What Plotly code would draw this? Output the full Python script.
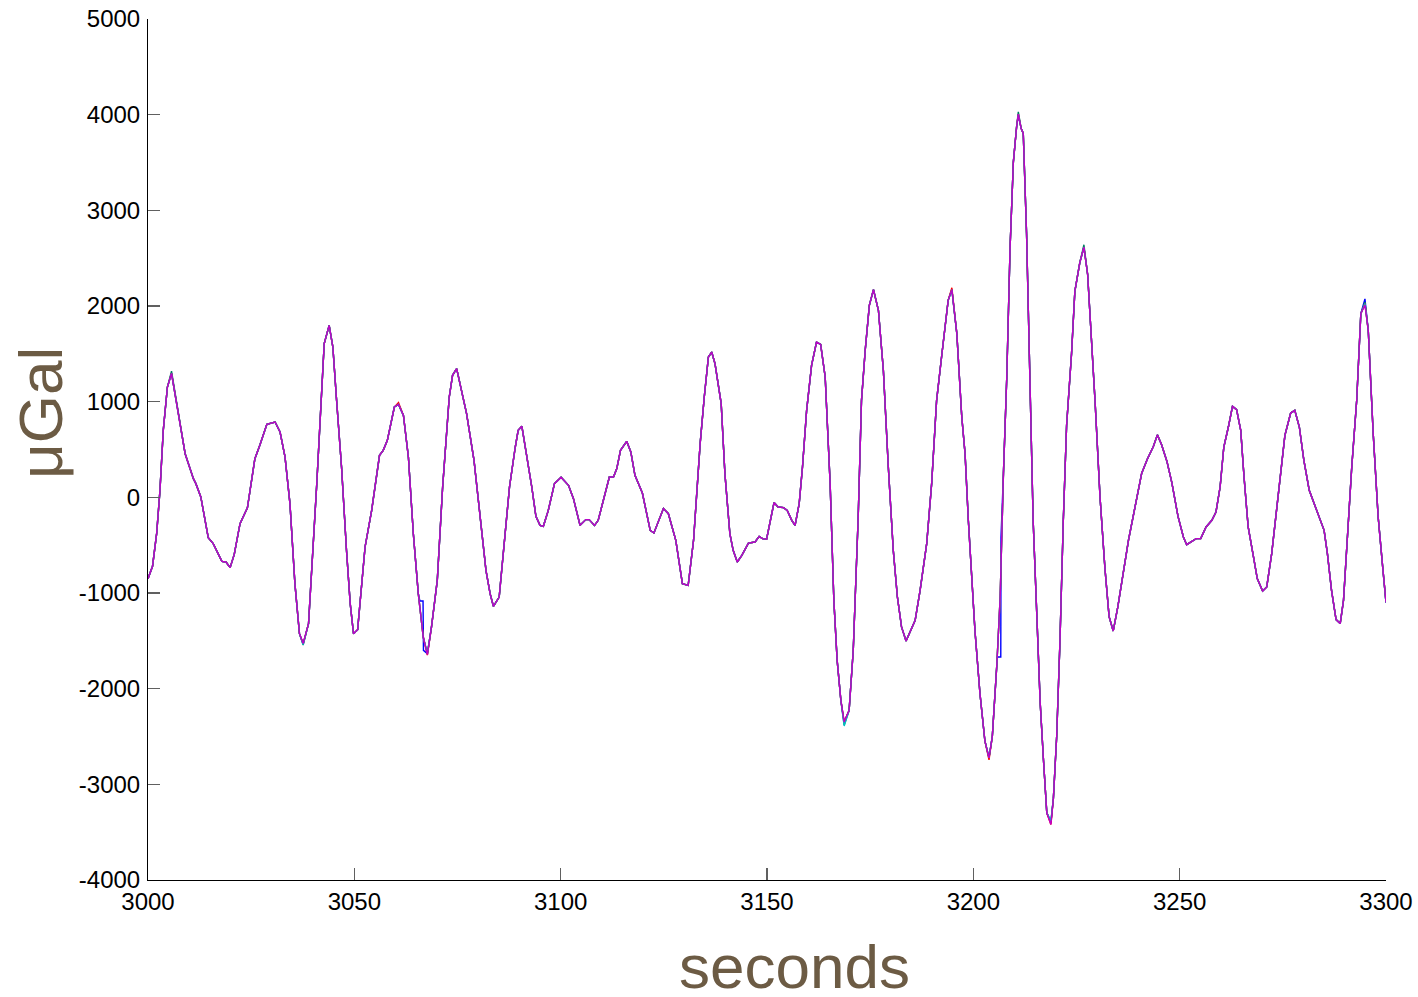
import plotly.graph_objects as go

# ---- data (seconds, µGal) ----
seconds = [
    3000.0, 3001.1, 3002.1, 3002.9, 3003.7, 3004.7, 3005.7, 3009.0, 3011.0, 3011.6,
    3012.8, 3014.6, 3015.8, 3017.9, 3018.9, 3019.9, 3020.9, 3022.3, 3024.1, 3025.9,
    3027.1, 3028.8, 3030.8, 3032.0, 3033.2, 3034.4, 3035.6, 3036.7, 3037.6, 3038.9,
    3040.9, 3042.1, 3042.7, 3043.9, 3044.8, 3045.7, 3046.9, 3048.1, 3049.0, 3049.8,
    3050.8, 3052.6, 3054.2, 3056.1, 3057.0, 3058.0, 3059.7, 3060.7, 3061.9, 3063.1,
    3064.3, 3065.5, 3066.7, 3067.7, 3068.7, 3070.1, 3071.4, 3073.0, 3073.8, 3074.8,
    3075.8, 3077.2, 3079.0, 3080.5, 3081.9, 3082.9, 3083.7, 3085.1, 3086.5, 3087.6,
    3089.0, 3089.7, 3090.6, 3091.6, 3093.0, 3094.0, 3095.0, 3095.8, 3097.0, 3098.5,
    3100.1, 3101.9, 3103.1, 3104.7, 3106.1, 3106.9, 3108.2, 3109.1, 3110.3, 3111.8,
    3112.8, 3113.6, 3114.5, 3116.0, 3117.0, 3118.0, 3119.8, 3121.7, 3122.6, 3123.7,
    3124.9, 3126.1, 3127.9, 3129.5, 3130.9, 3132.2, 3133.8, 3134.8, 3135.8, 3136.6,
    3137.4, 3138.9, 3139.8, 3141.0, 3141.8, 3142.8, 3143.9, 3145.5, 3147.1, 3148.1,
    3148.9, 3149.9, 3151.7, 3152.7, 3154.0, 3154.9, 3156.0, 3156.8, 3157.8, 3158.6,
    3159.6, 3160.8, 3162.0, 3163.0, 3164.1, 3165.3, 3166.2, 3167.0, 3167.9, 3168.7,
    3169.9, 3170.9, 3172.1, 3172.9, 3173.8, 3174.8, 3175.8, 3177.0, 3178.2, 3179.4,
    3180.6, 3181.6, 3182.6, 3183.7, 3184.9, 3185.9, 3187.1, 3188.7, 3189.9, 3191.1,
    3192.3, 3193.9, 3194.8, 3196.0, 3197.2, 3198.0, 3198.8, 3199.6, 3200.4, 3201.6,
    3202.8, 3203.8, 3204.6, 3205.7, 3206.5, 3207.3, 3208.1, 3208.9, 3209.7, 3210.5,
    3210.9, 3211.6, 3212.1, 3212.9, 3213.7, 3214.5, 3215.4, 3216.2, 3217.0, 3217.8,
    3218.8, 3219.4, 3220.2, 3221.0, 3221.8, 3222.6, 3223.8, 3224.6, 3225.8, 3226.8,
    3227.7, 3228.5, 3229.5, 3230.7, 3231.9, 3232.9, 3233.9, 3235.0, 3236.4, 3237.6,
    3239.2, 3240.8, 3242.2, 3243.6, 3244.6, 3245.6, 3246.9, 3248.1, 3249.6, 3250.9,
    3251.7, 3254.0, 3255.1, 3256.4, 3257.8, 3258.8, 3259.8, 3260.7, 3261.8, 3262.8,
    3263.8, 3264.8, 3265.6, 3266.6, 3267.9, 3268.8, 3270.1, 3271.1, 3272.3, 3273.5,
    3274.7, 3275.5, 3276.9, 3277.9, 3279.0, 3280.1, 3281.4, 3282.6, 3284.0, 3285.0,
    3285.8, 3286.8, 3287.9, 3288.9, 3289.7, 3290.5, 3291.7, 3292.9, 3293.9, 3294.9,
    3295.7, 3296.9, 3298.1, 3299.2, 3300.0,
]
ugal = [
    -850, -720, -377, 73, 700, 1153, 1295, 456, 195, 143,
    4, -422, -484, -669, -676, -735, -596, -275, -108, 404,
    544, 763, 787, 683, 422, -66, -902, -1425, -1529, -1320,
    143, 1118, 1606, 1798, 1571, 1014, 317, -554, -1111, -1425,
    -1383, -519, -136, 439, 491, 596, 944, 972, 857, 422,
    -380, -1007, -1460, -1634, -1355, -868, 108, 1049, 1275, 1345,
    1136, 875, 387, -240, -763, -1007, -1139, -1042, -380, 108,
    526, 700, 742, 491, 108, -199, -293, -303, -136, 143,
    210, 125, -14, -293, -233, -233, -293, -240, -31, 213,
    213, 300, 491, 585, 474, 230, 45, -345, -373, -240,
    -118, -171, -449, -902, -920, -449, 561, 1049, 1467, 1519,
    1397, 979, 248, -380, -554, -676, -606, -478, -467, -408,
    -432, -437, -55, -101, -108, -136, -240, -293, -66, 317,
    909, 1380, 1623, 1599, 1258, 143, -1077, -1704, -2122, -2349,
    -2226, -1599, -206, 1014, 1537, 2007, 2171, 1955, 1327, 317,
    -554, -1042, -1355, -1502, -1390, -1286, -972, -484, 143, 1014,
    1467, 2059, 2171, 1711, 839, 454, -247, -798, -1397, -2048,
    -2547, -2723, -2498, -1745, -1047, 253, 1253, 2604, 3504, 3879,
    4005, 3854, 3804, 2754, 1253, -247, -1247, -2147, -2748, -3298,
    -3397, -3147, -2497, -1497, -247, 754, 1503, 2153, 2454, 2614,
    2329, 1754, 1003, 3, -747, -1247, -1397, -1147, -747, -447,
    -97, 253, 403, 528, 653, 553, 378, 154, -200, -415,
    -495, -432, -432, -310, -240, -153, 108, 526, 735, 951,
    916, 700, 213, -310, -624, -850, -979, -937, -589, -101,
    317, 648, 881, 909, 735, 387, 73, -66, -240, -345,
    -589, -972, -1278, -1320, -1077, -484, 317, 1014, 1920, 2025,
    1746, 666, -206, -729, -1100,
]

# tick labels as printed in the reference (plain hyphen minus)
x_tick_vals = [3000, 3050, 3100, 3150, 3200, 3250, 3300]
x_tick_text = ["3000", "3050", "3100", "3150", "3200", "3250", "3300"]
y_tick_vals = [-4000, -3000, -2000, -1000, 0, 1000, 2000, 3000, 4000, 5000]
y_tick_text = ["-4000", "-3000", "-2000", "-1000", "0", "1000", "2000", "3000", "4000", "5000"]

# blue channel: two held samples (flat steps)
blue_step_t = [3065.9, 3066.65, 3066.75, 3205.85, 3206.65, 3206.7]
blue_step_v = [-1084, -1084, -1600, -1669, -1669, -420]
blue_gap_from = [3065.6, 3205.75]
blue_gap_to = [3066.8, 3207.0]

# small per-channel deviations at peaks (seconds -> µGal)
green_dev_t = [3005.7, 3037.6, 3168.7, 3210.9, 3226.8, 3294.9]
green_dev_v = [1320, -1545, -2380, 4030, 2640, 2040]
red_dev_t = [3060.7, 3067.7, 3194.8, 3203.8, 3218.8, 3300.0]
red_dev_v = [990, -1650, 2190, -2745, -3420, -1090]
cyan_dev_t = [3037.6, 3168.7, 3218.8]
cyan_dev_v = [-1540, -2390, -3380]
magenta_dev_t = [3067.7, 3218.8, 3294.9]
magenta_dev_v = [-1645, -3420, 2010]
blue_dev_t = [3294.9, 3210.9]
blue_dev_v = [2075, 3990]


def with_devs(dev_t, dev_v):
    v = list(ugal)
    for t, val in zip(dev_t, dev_v):
        i = min(range(len(seconds)), key=lambda k: abs(seconds[k] - t))
        v[i] = val
    return list(seconds), v


def blue_series():
    t_all, v_all = with_devs(blue_dev_t, blue_dev_v)
    pts = []
    for t, v in zip(t_all, v_all):
        if any(a <= t <= b for a, b in zip(blue_gap_from, blue_gap_to)):
            continue
        pts.append((t, v))
    pts += list(zip(blue_step_t, blue_step_v))
    pts.sort(key=lambda p: p[0])
    return [p[0] for p in pts], [p[1] for p in pts]


series = [
    ("blue", "#0000ff", blue_series()),
    ("green", "#008060", with_devs(green_dev_t, green_dev_v)),
    ("red", "#ff0000", with_devs(red_dev_t, red_dev_v)),
    ("cyan", "#00bfbf", with_devs(cyan_dev_t, cyan_dev_v)),
    ("magenta", "#c000c8", with_devs(magenta_dev_t, magenta_dev_v)),
]

fig = go.Figure()
for name, color, (xs, ys) in series:
    fig.add_trace(go.Scatter(x=xs, y=ys, mode="lines", name=name,
                             line=dict(color=color, width=1.4),
                             showlegend=False, hoverinfo="skip"))

label_color = "#6c5b44"
font_family = "Liberation Sans, Arial, sans-serif"

fig.update_layout(
    width=1418, height=997,
    margin=dict(l=148, r=32, t=19, b=117, pad=0),
    paper_bgcolor="white", plot_bgcolor="white",
    font=dict(family=font_family, size=24, color="black"),
    xaxis=dict(range=[3000, 3300], tickmode="array", tickvals=x_tick_vals,
               ticktext=x_tick_text, showgrid=False, automargin=False,
               zeroline=False, showline=True, linecolor="black", linewidth=1,
               ticks="inside", ticklen=12, tickwidth=1.5, tickcolor="#606060",
               ticklabelstandoff=0, ticklabeloverflow="allow",
               tickfont=dict(size=24, color="black", family=font_family)),
    yaxis=dict(range=[-4000, 5000], tickmode="array", tickvals=y_tick_vals,
               ticktext=y_tick_text, showgrid=False, automargin=False,
               zeroline=False, showline=True, linecolor="black", linewidth=1,
               ticks="inside", ticklen=12, tickwidth=1.5, tickcolor="#606060",
               ticklabelstandoff=2, ticklabeloverflow="allow",
               tickfont=dict(size=24, color="black", family=font_family)),
    annotations=[
        dict(text="seconds", xref="paper", yref="paper", x=0.5226, y=-0.1010,
             xanchor="center", yanchor="middle", showarrow=False,
             font=dict(size=62, color=label_color, family=font_family)),
        dict(text="μGal", xref="paper", yref="paper", x=-0.0864, y=0.5424,
             xanchor="center", yanchor="middle", showarrow=False, textangle=-90,
             font=dict(size=62, color=label_color, family=font_family)),
    ],
)

# remove the default 8px page margin so the figure fills the window exactly
fig.write_html("out.html",
               config={"displayModeBar": False, "staticPlot": True},
               post_script="document.body.style.margin='0px';"
                           "document.body.style.overflow='hidden';")
